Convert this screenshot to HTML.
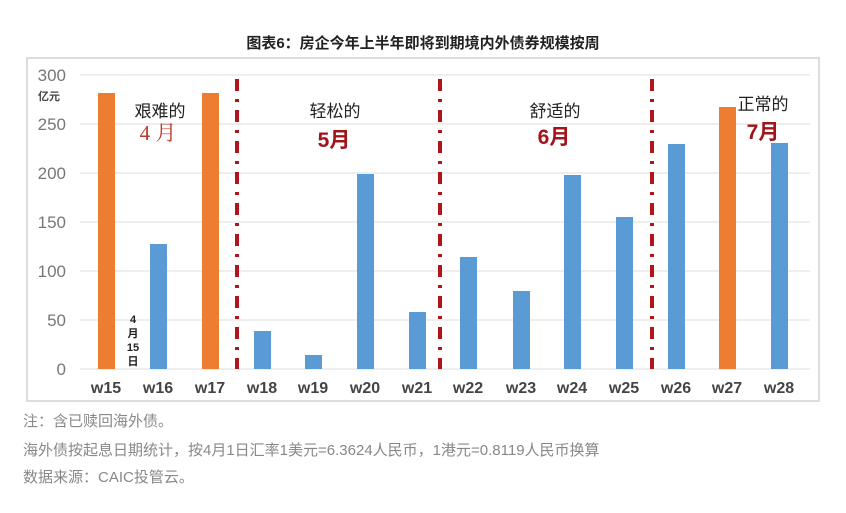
<!DOCTYPE html>
<html><head><meta charset="utf-8"><style>
body{margin:0;background:#fff;width:846px;height:508px;overflow:hidden;font-family:"Liberation Sans","Noto Sans CJK SC",sans-serif}
</style></head><body>
<svg width="846" height="508" xmlns="http://www.w3.org/2000/svg" font-family="Liberation Sans, Noto Sans CJK SC, sans-serif">
<text x="423" y="48" text-anchor="middle" font-size="15" font-weight="bold" fill="#222">图表6：房企今年上半年即将到期境内外债券规模按周</text>
<rect x="27" y="58" width="792" height="343" fill="#fff" stroke="#ddd" stroke-width="2"/>
<g stroke="#e3e3e3" stroke-width="1.2">
<line x1="80" x2="810" y1="75" y2="75"/><line x1="80" x2="810" y1="124" y2="124"/><line x1="80" x2="810" y1="173" y2="173"/><line x1="80" x2="810" y1="222" y2="222"/><line x1="80" x2="810" y1="271" y2="271"/><line x1="80" x2="810" y1="320" y2="320"/><line x1="80" x2="810" y1="369" y2="369"/>
</g>
<g font-size="17" fill="#777" text-anchor="end">
<text x="66" y="81">300</text><text x="66" y="130">250</text><text x="66" y="179">200</text><text x="66" y="228">150</text><text x="66" y="277">100</text><text x="66" y="326">50</text><text x="66" y="375">0</text>
</g>
<text x="38" y="100" font-size="11" font-weight="bold" fill="#444">亿元</text>
<g>
<rect x="98" y="93" width="17" height="276" fill="#ed7d31"/>
<rect x="150" y="244" width="17" height="125" fill="#5b9bd5"/>
<rect x="202" y="93" width="17" height="276" fill="#ed7d31"/>
<rect x="254" y="331" width="17" height="38" fill="#5b9bd5"/>
<rect x="305" y="355" width="17" height="14" fill="#5b9bd5"/>
<rect x="357" y="174" width="17" height="195" fill="#5b9bd5"/>
<rect x="409" y="312" width="17" height="57" fill="#5b9bd5"/>
<rect x="460" y="257" width="17" height="112" fill="#5b9bd5"/>
<rect x="513" y="291" width="17" height="78" fill="#5b9bd5"/>
<rect x="564" y="175" width="17" height="194" fill="#5b9bd5"/>
<rect x="616" y="217" width="17" height="152" fill="#5b9bd5"/>
<rect x="668" y="144" width="17" height="225" fill="#5b9bd5"/>
<rect x="719" y="107" width="17" height="262" fill="#ed7d31"/>
<rect x="771" y="143" width="17" height="226" fill="#5b9bd5"/>
</g>
<g stroke="#b0151b" stroke-width="4" stroke-dasharray="12,8,3,8">
<line x1="237" x2="237" y1="79" y2="369"/><line x1="440" x2="440" y1="79" y2="369"/><line x1="652" x2="652" y1="79" y2="369"/>
</g>
<g font-size="16" font-weight="bold" text-anchor="middle" fill="#444">
<text x="106" y="393">w15</text><text x="158" y="393">w16</text><text x="210" y="393">w17</text><text x="262" y="393">w18</text><text x="313" y="393">w19</text><text x="365" y="393">w20</text><text x="417" y="393">w21</text><text x="468" y="393">w22</text><text x="521" y="393">w23</text><text x="572" y="393">w24</text><text x="624" y="393">w25</text><text x="676" y="393">w26</text><text x="727" y="393">w27</text><text x="779" y="393">w28</text>
</g>
<g font-size="11" font-weight="bold" text-anchor="middle" fill="#222">
<text x="133" y="323">4</text><text x="133" y="337">月</text><text x="133" y="351">15</text><text x="133" y="365">日</text>
</g>
<g font-size="17" text-anchor="middle" fill="#222">
<text x="160" y="117">艰难的</text><text x="335" y="117">轻松的</text><text x="555" y="117">舒适的</text><text x="763" y="110">正常的</text>
</g>
<text x="158" y="140" font-size="21" text-anchor="middle" fill="#c0392b" font-family="Liberation Serif, Noto Serif CJK SC, serif">4 月</text>
<g font-size="21" font-weight="bold" text-anchor="middle" fill="#a0141a">
<text x="334" y="147">5月</text><text x="554" y="144">6月</text><text x="763" y="139">7月</text>
</g>
<g font-size="15" fill="#888">
<text x="23" y="426">注：含已赎回海外债。</text>
<text x="23" y="455">海外债按起息日期统计，按4月1日汇率1美元=6.3624人民币，1港元=0.8119人民币换算</text>
<text x="23" y="482">数据来源：CAIC投管云。</text>
</g>
</svg>
</body></html>
